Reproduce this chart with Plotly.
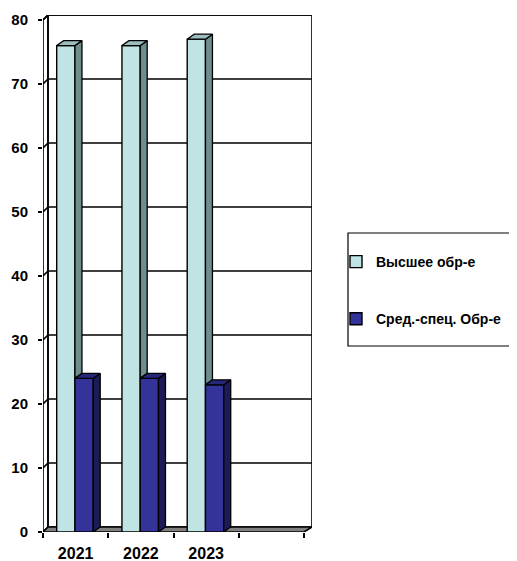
import plotly.graph_objects as go

# ---------------- data ----------------
categories = ["2021", "2022", "2023"]
higher_edu = [76, 76, 77]          # Высшее обр-е
secondary_edu = [24, 24, 23]       # Сред.-спец. Обр-е
y_ticks = [0, 10, 20, 30, 40, 50, 60, 70, 80]
slot_edges = [-0.5, 0.5, 1.5, 2.5, 3.5]
series_names = ["Высшее обр-е", "Сред.-спец. Обр-е"]

# ---------------- geometry / style ----------------
PAGE_PAD = 8                       # default body margin of the html page
W, H = 517 - PAGE_PAD, 561 - PAGE_PAD
PLOT_W, PLOT_H = 269, 517
ML, MT = 43 - PAGE_PAD, 15 - PAGE_PAD
MR, MB = W - ML - PLOT_W, H - MT - PLOT_H
X0, X1 = -0.5, 3.6226
DXW = 0.0766      # wall depth in x units
DY = 0.78         # depth in y units
DXB = 0.107       # bar depth in x units
BAR_W = 0.28
OFF_HI = -0.29
OFF_SE = -0.01
Y_TOP = 80 + DY
LW = 1.6

C_HI = ["#C0E4E4", "#9CBDBD", "#6E8E8E"]   # front, top, side
C_SE = ["#333399", "#26267A", "#1B1B57"]
FONT = "Liberation Sans, Arial, sans-serif"

xc = list(range(len(categories)))

fig = go.Figure()

fig.add_trace(go.Bar(x=xc, y=higher_edu, width=BAR_W, offset=OFF_HI, name=series_names[0],
                     marker=dict(color=C_HI[0], line=dict(color="black", width=1.4)),
                     legendgroup="a"))
fig.add_trace(go.Bar(x=xc, y=secondary_edu, width=BAR_W, offset=OFF_SE, name=series_names[1],
                     marker=dict(color=C_SE[0], line=dict(color="black", width=1.4)),
                     legendgroup="b"))


def faces(values, offset, lows=None):
    tx, ty, sx, sy = [], [], [], []
    for i, v in enumerate(values):
        xl = xc[i] + offset
        xr = xl + BAR_W
        lo = 0 if lows is None else lows[i]
        tx += [xl, xr, xr + DXB, xl + DXB, xl, None]
        ty += [v, v, v + DY, v + DY, v, None]
        sx += [xr, xr + DXB, xr + DXB, xr, xr, None]
        sy += [lo, lo + DY, v + DY, v, lo, None]
    return tx, ty, sx, sy


for vals, off, cols, lows in [(higher_edu, OFF_HI, C_HI, secondary_edu),
                              (secondary_edu, OFF_SE, C_SE, None)]:
    tx, ty, sx, sy = faces(vals, off, lows)
    for xs, ys, col in [(sx, sy, cols[2]), (tx, ty, cols[1])]:
        fig.add_trace(go.Scatter(x=xs, y=ys, mode="lines", fill="toself", fillcolor=col,
                                 line=dict(color="black", width=1.3), showlegend=False,
                                 hoverinfo="skip"))

# ---------------- frame (walls, floor, gridlines) ----------------
shapes = []
# back wall
shapes.append(dict(type="rect", xref="x", yref="y", x0=X0 + DXW, x1=X1, y0=DY, y1=Y_TOP,
                   line=dict(color="black", width=LW), fillcolor="white", layer="below"))
# gridlines on left wall + back wall
for v in y_ticks[1:]:
    shapes.append(dict(type="path", xref="x", yref="y",
                       path=f"M{X0},{v} L{X0 + DXW},{v + DY} L{X1},{v + DY}",
                       line=dict(color="black", width=LW), layer="below"))
# left wall
shapes.append(dict(type="path", xref="x", yref="y",
                   path=f"M{X0},0 L{X0},80 L{X0 + DXW},{Y_TOP} L{X0 + DXW},{DY} Z",
                   line=dict(color="black", width=LW), layer="below"))
# floor
shapes.append(dict(type="path", xref="x", yref="y",
                   path=f"M{X0},0 L{slot_edges[-1]},0 L{X1},{DY} L{X0 + DXW},{DY} Z",
                   line=dict(color="black", width=LW), fillcolor="#808080", layer="below"))
# legend box (in plot-area fractions)
shapes.append(dict(type="rect", xref="paper", yref="paper",
                   x0=(348 - 43) / PLOT_W, x1=(530 - 43) / PLOT_W,
                   y0=(532 - 346) / PLOT_H, y1=(532 - 233) / PLOT_H,
                   line=dict(color="black", width=1.2), layer="above"))

fig.update_layout(
    width=W, height=H,
    margin=dict(l=ML, r=MR, t=MT, b=MB, pad=0, autoexpand=False),
    paper_bgcolor="white", plot_bgcolor="white",
    font=dict(family=FONT, color="black", weight="bold"),
    barmode="overlay",
    shapes=shapes,
    showlegend=True,
    legend=dict(xref="container", yref="container",
                x=(336 - PAGE_PAD) / W, y=1 - (246 - PAGE_PAD) / H,
                xanchor="left", yanchor="top",
                font=dict(size=14, family=FONT, weight="bold"), tracegroupgap=36,
                bgcolor="rgba(0,0,0,0)", borderwidth=0, itemwidth=30),
    xaxis=dict(range=[X0, X1], tickmode="array", tickvals=xc, ticktext=categories,
               ticks="", showgrid=False, zeroline=False, showline=False, automargin=False,
               tickfont=dict(size=16), ticklabelstandoff=10, fixedrange=True),
    xaxis2=dict(range=[X0, X1], overlaying="x", anchor="y", side="bottom",
                tickmode="array", tickvals=slot_edges, ticks="outside", ticklen=5,
                tickcolor="black", tickwidth=LW, showticklabels=False, automargin=False,
                showgrid=False, zeroline=False, showline=False),
    yaxis=dict(range=[0, Y_TOP], tickmode="array", tickvals=y_ticks, ticks="outside",
               ticklen=4, tickcolor="black", tickwidth=LW, showgrid=False, zeroline=False,
               showline=False, automargin=False, tickfont=dict(size=15),
               ticklabelstandoff=7, fixedrange=True),
)
# invisible helper so the boundary-tick axis is drawn
fig.add_trace(go.Scatter(x=[X0], y=[0], xaxis="x2", mode="markers",
                         marker=dict(opacity=0), showlegend=False, hoverinfo="skip"))

fig.write_html("out.html")
